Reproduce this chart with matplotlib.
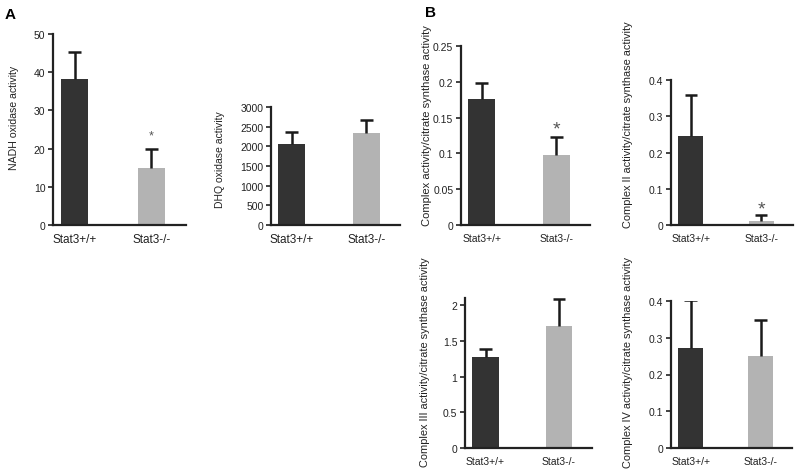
import matplotlib.pyplot as plt
from matplotlib.ticker import FuncFormatter

# genotype groups
groups = ["Stat3+/+", "Stat3-/-"]

# panel A
nadh_mean = [38.2, 15.0]
nadh_err = [7.1, 5.0]
dhq_mean = [2060, 2350]
dhq_err = [300, 330]

# panel B, normalised to citrate synthase
c1_mean = [0.176, 0.098]
c1_err = [0.022, 0.025]
c2_mean = [0.245, 0.010]
c2_err = [0.115, 0.017]
c3_mean = [1.27, 1.71]
c3_err = [0.11, 0.38]
c4_mean = [0.273, 0.250]
c4_err = [0.130, 0.097]

DARK = "#333333"
LIGHT = "#b3b3b3"
INK = "#222222"
W, H = 800, 477


def panel(rect_px, means, errs, ylim, ticks, ylabel, label_px, label_size,
          tick_size=7.5, star=None, star_size=8):
    x0, y_top, x1, y0 = rect_px
    ax = fig.add_axes([x0 / W, 1 - y0 / H, (x1 - x0) / W, (y0 - y_top) / H])
    xs = [0, 1]
    ax.bar(xs, means, width=0.36, color=[DARK, LIGHT], zorder=2)
    # upper error bars only, with a cap on top
    tops = [m + e for m, e in zip(means, errs)]
    ax.vlines(xs, means, tops, color="#1a1a1a", lw=1.8, zorder=3)
    ax.hlines(tops, [x - 0.088 for x in xs], [x + 0.088 for x in xs],
              color="#1a1a1a", lw=1.8, zorder=3)
    ax.set_xlim(-0.28, 1.45)
    ax.set_ylim(*ylim)
    ax.set_yticks(ticks)
    ax.yaxis.set_major_formatter(FuncFormatter(lambda v, p: f"{v:g}"))
    ax.set_xticks(xs)
    ax.set_xticklabels(groups, fontsize=tick_size, color=INK)
    ax.tick_params(axis="x", length=0, pad=6)
    ax.tick_params(axis="y", length=3.5, width=1.2, labelsize=7.5,
                   colors=INK, pad=2)
    for s in ["top", "right"]:
        ax.spines[s].set_visible(False)
    for s in ["left", "bottom"]:
        ax.spines[s].set_linewidth(1.6)
        ax.spines[s].set_color(INK)
    fig.text(label_px[0] / W, 1 - label_px[1] / H, ylabel, rotation=90,
             ha="center", va="center", fontsize=label_size, color=INK)
    if star is not None:
        ax.text(1, star, "*", ha="center", va="center", fontsize=star_size,
                color="#555555")
    return ax


fig = plt.figure(figsize=(8, 4.77), dpi=100)
plt.rcParams["font.family"] = ["Liberation Sans", "DejaVu Sans"]

panel((53, 35, 186, 226), nadh_mean, nadh_err, (0, 50),
      [0, 10, 20, 30, 40, 50], "NADH oxidase activity", (14, 118), 7.6,
      tick_size=8.5, star=23.5, star_size=9)
panel((271, 108, 400, 226), dhq_mean, dhq_err, (0, 3000),
      [0, 500, 1000, 1500, 2000, 2500, 3000], "DHQ oxidase activity",
      (220, 160), 7.5, tick_size=8.5)
panel((461, 47, 590, 226), c1_mean, c1_err, (0, 0.25),
      [0, 0.05, 0.1, 0.15, 0.2, 0.25],
      "Complex activity/citrate synthase activity", (427, 126), 8.0,
      star=0.134, star_size=14)
panel((671, 81, 793, 226), c2_mean, c2_err, (0, 0.4),
      [0, 0.1, 0.2, 0.3, 0.4],
      "Complex II activity/citrate synthase activity", (628, 125), 7.9,
      star=0.043, star_size=14)
panel((465, 299, 592, 449), c3_mean, c3_err, (0, 2.1),
      [0, 0.5, 1, 1.5, 2], "Complex III activity/citrate synthase activity",
      (425, 362), 7.9)
panel((671, 302, 792, 449), c4_mean, c4_err, (0, 0.4),
      [0, 0.1, 0.2, 0.3, 0.4], "Complex IV activity/citrate synthase activity",
      (628, 362), 7.9)

fig.text(5 / W, 1 - 15 / H, "A", fontsize=11, fontweight="bold", va="center")
fig.text(425 / W, 1 - 13 / H, "B", fontsize=11, fontweight="bold", va="center")

fig.savefig("out.png", dpi=100)
